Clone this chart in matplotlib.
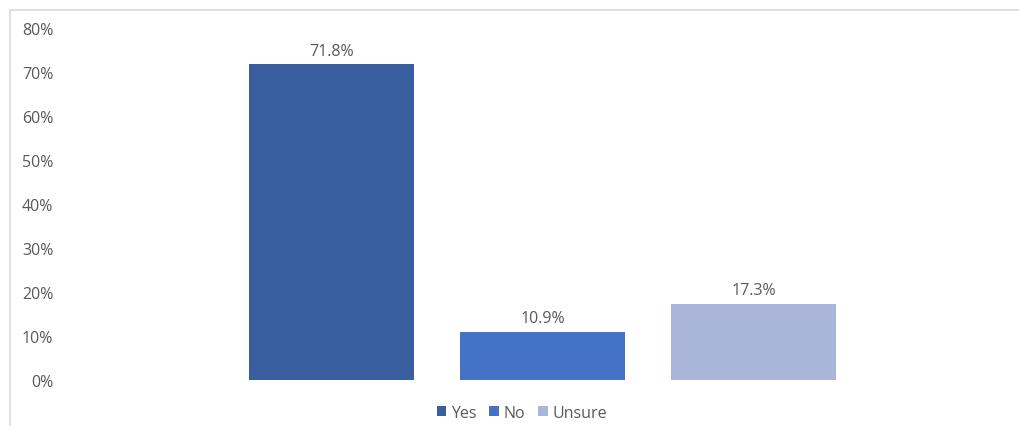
import matplotlib.pyplot as plt
from matplotlib.lines import Line2D
from matplotlib.patches import Patch

# survey answers, share of respondents in percent
answers = ['Yes', 'No', 'Unsure']
shares = [71.8, 10.9, 17.3]
colors = ['#3A5FA0', '#4472C4', '#A9B5D9']
y_ticks = [0, 10, 20, 30, 40, 50, 60, 70, 80]

plt.rcParams['font.family'] = ['Open Sans', 'DejaVu Sans']
text_color = '#595959'

W, H = 1019, 427
fig = plt.figure(figsize=(W / 100, H / 100), dpi=100)
fig.patch.set_facecolor('white')

# plot area in pixel coordinates
left, right, bottom, top = 70, 1015, 381, 29
ax = fig.add_axes([left / W, 1 - bottom / H, (right - left) / W, (bottom - top) / H])

pos = list(range(len(answers)))
bars = ax.bar(pos, shares, width=0.782, color=colors)
for b, v in zip(bars, shares):
    ax.annotate(f'{v:.1f}%', (b.get_x() + b.get_width() / 2, v),
                xytext=(0, 4), textcoords='offset points',
                ha='center', va='bottom', fontsize=11.5, color=text_color)

ax.set_ylim(0, 80)
ax.set_xlim(1 - 2.2393, 1 + 2.2393)
ax.set_yticks(y_ticks)
ax.set_yticklabels([f'{t}%' for t in y_ticks])
ax.set_xticks([])
ax.tick_params(axis='y', length=0, pad=12, labelsize=11.5, labelcolor=text_color)
for s in ax.spines.values():
    s.set_visible(False)

# chart frame, top and left edges
fig.add_artist(Line2D([10 / W, 1], [1 - 11 / H, 1 - 11 / H], color='#DADADA', lw=1.2))
fig.add_artist(Line2D([10 / W, 10 / W], [0, 1 - 11 / H], color='#DADADA', lw=1.2))

handles = [Patch(facecolor=c, label=a) for a, c in zip(answers, colors)]
fig.legend(handles=handles, loc='center', bbox_to_anchor=(522 / W, 1 - 414 / H),
           ncol=3, frameon=False, fontsize=11.5, labelcolor=text_color,
           handlelength=0.6, handleheight=0.6, handletextpad=0.3, columnspacing=0.8)

fig.savefig('out.png', dpi=100)
